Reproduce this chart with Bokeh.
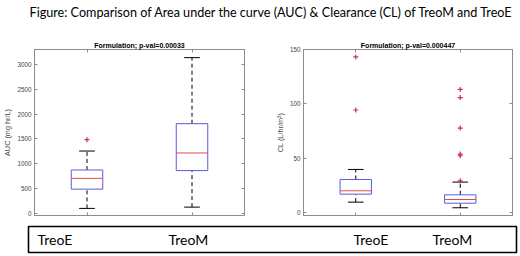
from bokeh.plotting import figure
from bokeh.layouts import column, row
from bokeh.models import Range1d, LinearAxis, FixedTicker
from bokeh.core.properties import value
from bokeh.embed import file_html
from bokeh.resources import INLINE

fig_title = "Figure: Comparison of Area under the curve (AUC) & Clearance (CL) of TreoM and TreoE"
groups = ["TreoE", "TreoM"]

# AUC panel
auc_title = "Formulation; p-val=0.00033"
auc_ylabel = "AUC (mg hr/L)"
auc_ticks = [0, 500, 1000, 1500, 2000, 2500, 3000]
auc_lower = [98, 124]
auc_q1 = [486, 860]
auc_median = [703, 1215]
auc_q3 = [872, 1805]
auc_upper = [1254, 3136]
auc_out_group = ["TreoE"]
auc_out_value = [1482]

# CL panel
cl_title = "Formulation; p-val=0.000447"
cl_ylabel = "CL (L/hr/m\u00b2)"
cl_ticks = [0, 50, 100, 150]
cl_lower = [9.8, 4.6]
cl_q1 = [17.1, 8.8]
cl_median = [20.2, 12.2]
cl_q3 = [30.6, 16.5]
cl_upper = [39.8, 28.2]
cl_out_group = ["TreoE", "TreoE", "TreoM", "TreoM", "TreoM", "TreoM", "TreoM", "TreoM"]
cl_out_value = [143.2, 94.4, 113.3, 105.8, 77.8, 53.9, 52.4, 29.4]

# bottom legend strip labels
strip_labels = ["TreoE", "TreoM", "TreoE", "TreoM"]
strip_x = [37, 168, 353, 432]

FRAME = "#8c8c8c"
BOXW = 0.3
CAPW = 0.15


def add_axis(p, side, ticks, show_labels, label=None):
    ax = LinearAxis(ticker=FixedTicker(ticks=ticks))
    ax.major_tick_in = 3
    ax.major_tick_out = 0
    ax.minor_tick_in = 0
    ax.minor_tick_out = 0
    ax.axis_line_color = FRAME
    ax.major_tick_line_color = FRAME
    if show_labels:
        ax.major_label_text_font_size = "6.3px"
        ax.major_label_text_color = "#444444"
        ax.major_label_text_font = "Liberation Sans"
        ax.major_label_standoff = 3
    else:
        ax.major_label_text_font_size = "1px"
        ax.major_label_text_color = None
        ax.major_label_standoff = 0
    if label:
        ax.axis_label = label
        ax.axis_label_text_font_size = "7.3px"
        ax.axis_label_text_font = "Liberation Sans"
        ax.axis_label_text_font_style = "normal"
        ax.axis_label_text_color = "#444444"
        ax.axis_label_standoff = 2
    p.add_layout(ax, side)


def make_panel(title, ylabel, yticks, yr, lower, q1, med, q3, upper, og, ov, borders):
    bl, br, bt, bb = borders
    p = figure(width=260, height=186, x_range=Range1d(0.5, 2.5), y_range=Range1d(*yr),
               output_backend="svg", toolbar_location=None,
               x_axis_type=None, y_axis_type=None,
               min_border_left=bl, min_border_right=br, min_border_top=bt, min_border_bottom=bb)
    p.xgrid.visible = False
    p.ygrid.visible = False
    p.outline_line_color = FRAME
    p.background_fill_color = "white"
    p.border_fill_color = "white"
    p.title.text = title
    p.title.text_font = "Liberation Sans"
    p.title.text_font_size = "7px"
    p.title.text_font_style = "bold"
    p.title.text_color = "black"
    p.title.align = "center"
    p.title.standoff = 2
    add_axis(p, "left", yticks, True, ylabel)
    add_axis(p, "right", yticks, False)
    add_axis(p, "below", [1, 2], False)
    add_axis(p, "above", [1, 2], False)

    xs = [groups.index(g) + 1 for g in groups]
    # whiskers (dashed)
    p.segment(x0=xs, y0=q3, x1=xs, y1=upper, line_color="black", line_dash="4 3", line_width=1)
    p.segment(x0=xs, y0=lower, x1=xs, y1=q1, line_color="black", line_dash="4 3", line_width=1)
    # caps
    p.segment(x0=[x - CAPW / 2 for x in xs], y0=upper, x1=[x + CAPW / 2 for x in xs], y1=upper,
              line_color="black", line_width=1)
    p.segment(x0=[x - CAPW / 2 for x in xs], y0=lower, x1=[x + CAPW / 2 for x in xs], y1=lower,
              line_color="black", line_width=1)
    # boxes
    p.quad(left=[x - BOXW / 2 for x in xs], right=[x + BOXW / 2 for x in xs], bottom=q1, top=q3,
           fill_color=None, line_color="#5a5ae0", line_width=1)
    # medians
    p.segment(x0=[x - BOXW / 2 for x in xs], y0=med, x1=[x + BOXW / 2 for x in xs], y1=med,
              line_color="#e04a4a", line_width=1)
    # outliers
    oxs = [groups.index(g) + 1 for g in og]
    p.scatter(x=oxs, y=ov, marker="cross", size=5, line_color="#c8324a", line_width=1.2)
    return p


p_auc = make_panel(auc_title, auc_ylabel, auc_ticks, (-45, 3300),
                   auc_lower, auc_q1, auc_median, auc_q3, auc_upper,
                   auc_out_group, auc_out_value, (30, 16, 11, 5))
p_cl = make_panel(cl_title, cl_ylabel, cl_ticks, (-2.5, 150),
                  cl_lower, cl_q1, cl_median, cl_q3, cl_upper,
                  cl_out_group, cl_out_value, (43, 8, 13, 7))

# header
head = figure(width=520, height=36, x_range=Range1d(0, 520), y_range=Range1d(0, 36),
              output_backend="svg", toolbar_location=None, x_axis_type=None, y_axis_type=None,
              min_border=0)
head.outline_line_color = None
head.xgrid.visible = False
head.ygrid.visible = False
head.text(x=[271], y=[24], text=[fig_title], text_font=value("Lato"), text_font_size="12.6px",
          text_align="center", text_baseline="alphabetic", text_color="black")

# bottom strip
foot = figure(width=520, height=34, x_range=Range1d(0, 520), y_range=Range1d(0, 34),
              output_backend="svg", toolbar_location=None, x_axis_type=None, y_axis_type=None,
              min_border=0)
foot.outline_line_color = None
foot.xgrid.visible = False
foot.ygrid.visible = False
foot.quad(left=[28], right=[516], bottom=[4], top=[30], fill_color=None, line_color="black", line_width=1.6)
foot.text(x=strip_x, y=[17] * 4, text=strip_labels, text_font=value("Lato"), text_font_size="14px",
          text_align="left", text_baseline="middle", text_color="black")

layout = column(head, row(p_auc, p_cl), foot)
open("out.html", "w").write(file_html(layout, INLINE))
